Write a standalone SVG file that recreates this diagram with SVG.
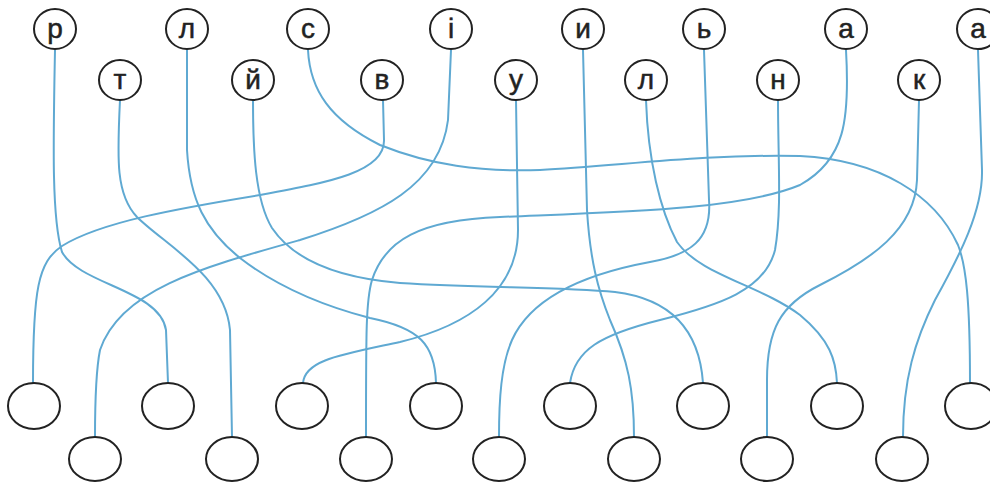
<svg xmlns="http://www.w3.org/2000/svg" width="990" height="483" viewBox="0 0 990 483">
<style>
.n{fill:#fff;stroke:#222;stroke-width:2}
.b{fill:#fff;stroke:#222;stroke-width:2}
.t{font-family:"Liberation Sans",Arial,sans-serif;font-size:28px;fill:#222;text-anchor:middle;stroke:#222;stroke-width:0.5}
.c{fill:none;stroke:#5fa9d2;stroke-width:2;stroke-linecap:round}
</style>
<rect width="990" height="483" fill="#fff"/>
<g id="connectors">
<path class="c" d="M383,100 L384,140 C385,172 330,182 260,195 C180,208 100,222 62,246 C38,262 33,290 33,383"/>
<path class="c" d="M451,50 L448,120 C440,185 380,215 300,240 C200,268 120,290 100,350 C96,370 95,400 95,437"/>
<path class="c" d="M55,50 C53,150 52,220 62,252 C80,285 160,290 166,330 L168,383"/>
<path class="c" d="M120,100 C117,160 116,195 137,217 C165,245 225,275 230,330 L232,437"/>
<path class="c" d="M187,50 L187,150 C190,200 205,230 240,258 C275,285 320,305 370,318 C420,328 435,345 436,383"/>
<path class="c" d="M253,100 C253,150 255,200 272,228 C295,262 340,278 400,283 C480,288 560,287 615,292 C680,300 700,340 703,383"/>
<path class="c" d="M308,50 C310,90 330,120 380,145 C430,165 480,172 540,170 C620,166 700,154 800,156 C880,160 935,195 958,245 C966,265 970,300 970,383"/>
<path class="c" d="M516,100 L518,230 C518,290 470,325 400,342 C340,355 305,360 303,383"/>
<path class="c" d="M583,50 L587,210 C590,260 598,290 610,320 C628,360 634,390 634,437"/>
<path class="c" d="M646,100 C648,160 660,210 677,242 C700,275 760,285 800,315 C830,340 836,360 837,383"/>
<path class="c" d="M704,50 L709,200 C712,240 690,255 650,262 C580,275 530,300 512,340 C501,365 499,400 499,437"/>
<path class="c" d="M778,100 C778,160 782,210 775,250 C765,290 720,305 660,320 C600,335 575,350 570,383"/>
<path class="c" d="M846,50 C850,120 845,160 800,185 C740,210 620,212 500,217 C420,220 385,240 372,280 C366,300 366,330 366,437"/>
<path class="c" d="M919,100 L917,180 C915,230 870,260 820,285 C780,305 767,330 767,380 L767,437"/>
<path class="c" d="M978,50 L982,170 C983,210 960,255 935,300 C915,340 903,380 903,437"/>
</g>
<g id="t1"><ellipse class="n" cx="55" cy="29" rx="21" ry="20"/><text class="t" x="55" y="38">р</text></g>
<g id="t2"><ellipse class="n" cx="120" cy="80" rx="21" ry="20"/><text class="t" x="120" y="89">т</text></g>
<g id="t3"><ellipse class="n" cx="187" cy="29" rx="21" ry="20"/><text class="t" x="187" y="38">л</text></g>
<g id="t4"><ellipse class="n" cx="253" cy="80" rx="21" ry="20"/><text class="t" x="253" y="89">й</text></g>
<g id="t5"><ellipse class="n" cx="308" cy="29" rx="21" ry="20"/><text class="t" x="308" y="38">с</text></g>
<g id="t6"><ellipse class="n" cx="382" cy="80" rx="21" ry="20"/><text class="t" x="382" y="89">в</text></g>
<g id="t7"><ellipse class="n" cx="451" cy="29" rx="21" ry="20"/><text class="t" x="451" y="38">і</text></g>
<g id="t8"><ellipse class="n" cx="516" cy="80" rx="21" ry="20"/><text class="t" x="516" y="89">у</text></g>
<g id="t9"><ellipse class="n" cx="583" cy="29" rx="21" ry="20"/><text class="t" x="583" y="38">и</text></g>
<g id="t10"><ellipse class="n" cx="646" cy="80" rx="21" ry="20"/><text class="t" x="646" y="89">л</text></g>
<g id="t11"><ellipse class="n" cx="704" cy="29" rx="21" ry="20"/><text class="t" x="704" y="38">ь</text></g>
<g id="t12"><ellipse class="n" cx="778" cy="80" rx="21" ry="20"/><text class="t" x="778" y="89">н</text></g>
<g id="t13"><ellipse class="n" cx="846" cy="29" rx="21" ry="20"/><text class="t" x="846" y="38">а</text></g>
<g id="t14"><ellipse class="n" cx="919" cy="80" rx="21" ry="20"/><text class="t" x="919" y="89">к</text></g>
<g id="t15"><ellipse class="n" cx="978" cy="29" rx="21" ry="20"/><text class="t" x="978" y="38">а</text></g>
<g id="b1"><ellipse class="b" cx="34" cy="406" rx="26" ry="23"/></g>
<g id="b2"><ellipse class="b" cx="95" cy="459" rx="26" ry="22"/></g>
<g id="b3"><ellipse class="b" cx="168" cy="406" rx="26" ry="23"/></g>
<g id="b4"><ellipse class="b" cx="232" cy="459" rx="26" ry="22"/></g>
<g id="b5"><ellipse class="b" cx="302" cy="406" rx="26" ry="23"/></g>
<g id="b6"><ellipse class="b" cx="366" cy="459" rx="26" ry="22"/></g>
<g id="b7"><ellipse class="b" cx="436" cy="406" rx="26" ry="23"/></g>
<g id="b8"><ellipse class="b" cx="499" cy="459" rx="26" ry="22"/></g>
<g id="b9"><ellipse class="b" cx="570" cy="406" rx="26" ry="23"/></g>
<g id="b10"><ellipse class="b" cx="634" cy="459" rx="26" ry="22"/></g>
<g id="b11"><ellipse class="b" cx="703" cy="406" rx="26" ry="23"/></g>
<g id="b12"><ellipse class="b" cx="767" cy="459" rx="26" ry="22"/></g>
<g id="b13"><ellipse class="b" cx="837" cy="406" rx="26" ry="23"/></g>
<g id="b14"><ellipse class="b" cx="902" cy="459" rx="26" ry="22"/></g>
<g id="b15"><ellipse class="b" cx="971" cy="406" rx="26" ry="23"/></g>
</svg>
